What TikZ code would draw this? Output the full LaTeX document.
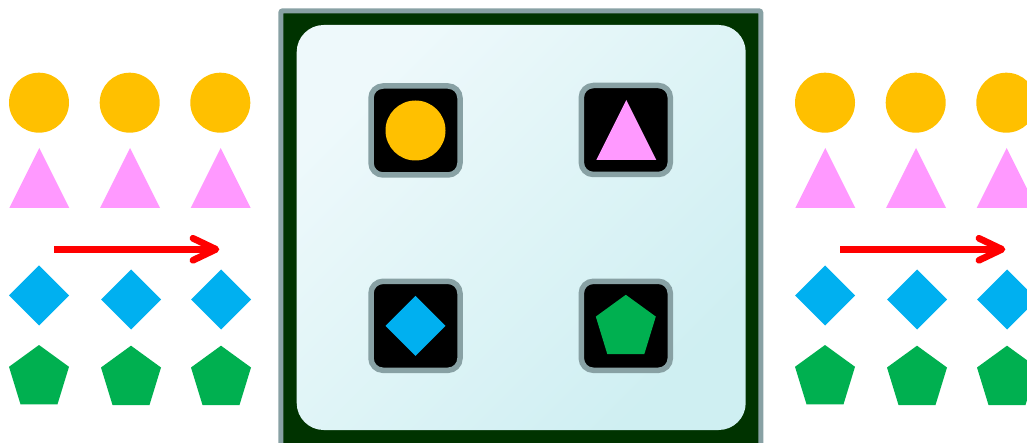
\documentclass[tikz,border=0pt]{standalone}
\usetikzlibrary{arrows.meta}
\definecolor{cgold}{HTML}{FFC000}
\definecolor{cpink}{HTML}{FF99FF}
\definecolor{cblue}{HTML}{00B0F0}
\definecolor{cgreen}{HTML}{00B050}
\definecolor{cred}{HTML}{FF0000}
\definecolor{cdark}{HTML}{003300}
\definecolor{cframe}{HTML}{88A1A4}
\definecolor{clightA}{HTML}{EEF9FB}
\definecolor{clightB}{HTML}{CFEFF2}
\tikzset{
  x=1pt, y=-1pt,
  pics/circ/.style={code={\fill[cgold] (0,0) circle (30);}},
  pics/tri/.style={code={\fill[cpink] (-30,30) -- (0,-30) -- (30,30) -- cycle;}},
  pics/diam/.style={code={\fill[cblue] (-30,0) -- (0,-30) -- (30,0) -- (0,30) -- cycle;}},
  pics/pent/.style={code={\fill[cgreen] (0,-31.5) -- (30,-9.7) -- (18.5,27.8) -- (-18.5,27.8) -- (-30,-9.7) -- cycle;}},
  iconbox/.style={draw=cframe, line width=5.5pt, fill=black, rounded corners=12pt,
    minimum width=89pt, minimum height=89pt, inner sep=0pt},
  flow/.style={draw=cred, line width=6.7pt,
    -{Straight Barb[round, length=23pt, width=22pt]}},
}
\begin{document}
\begin{tikzpicture}
\useasboundingbox (0,0) rectangle (1027,443);
% side groups
\foreach \dx/\nm in {0/L, 786/R}{
  \begin{scope}[xshift=\dx pt]
    \pic at (39,102.7) {circ};
    \pic at (129.7,102.7) {circ};
    \pic at (220.3,102.7) {circ};
    \pic at (39.3,178) {tri};
    \pic at (130,178) {tri};
    \pic at (220.7,178) {tri};
    \pic at (39,295.5) {diam};
    \pic at (131,299.5) {diam};
    \pic at (221,299.5) {diam};
    \pic at (39,376.5) {pent};
    \pic at (131,377.2) {pent};
    \pic at (221,377.2) {pent};
    \coordinate (\nm a) at (54.3,249.3);
    \coordinate (\nm b) at (219.3,249.3);
    \draw[flow] (\nm a) -- (\nm b);
  \end{scope}
}
% central frame
\draw[draw=cframe, line width=5pt, fill=cdark, rounded corners=2pt] (280.8,10.8) rectangle (760.8,470);
\shade[top color=clightA, bottom color=clightB, shading angle=45, rounded corners=27pt]
  (296.7,25) rectangle (745.7,430);
% icon boxes
\node[iconbox] (b1) at (415.5,130.5) {};
\node[iconbox] (b2) at (625.8,130) {};
\node[iconbox] (b3) at (415.5,325.8) {};
\node[iconbox] (b4) at (625.8,325.8) {};
\pic at (b1) {circ};
\pic at ([xshift=0.5pt]b2) {tri};
\pic at (b3) {diam};
\pic at ([yshift=-0.5pt]b4) {pent};
\end{tikzpicture}
\end{document}
